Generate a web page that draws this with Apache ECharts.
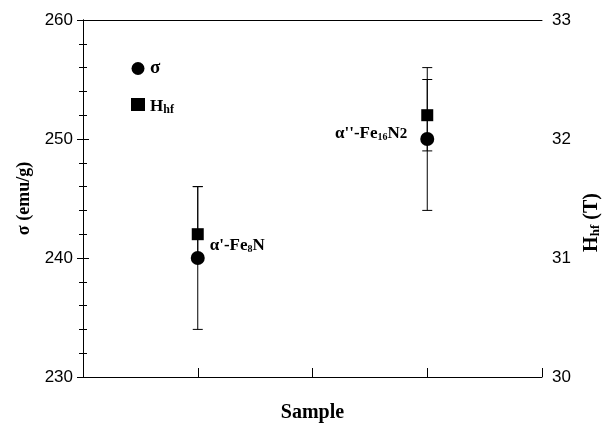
<!DOCTYPE html>
<html>
<head>
<meta charset="utf-8">
<script src="https://cdn.jsdelivr.net/npm/echarts@6/dist/echarts.min.js"></script>
<style>html,body{margin:0;padding:0;background:#fff}#c{width:609px;height:424px}</style>
</head>
<body>
<div id="c"></div>
<script>
// Data
const xPositions = [1, 3];
const sigma = [240, 250];
const sigmaLow = [234, 244];
const sigmaHigh = [246, 256];
const hhf = [31.2, 32.2];
const hhfLow = [31.0, 31.9];
const hhfHigh = [31.6, 32.5];
const sampleLabels = ["{m|α'-Fe}{s|8}{m|N}", "{m|α''-Fe}{s|16}{m|N}{s2|2}"];
const leftTicks = [230, 240, 250, 260];
const rightTicks = [30, 31, 32, 33];

const serif = '"Liberation Serif", "DejaVu Serif", serif';
const sans = '"Liberation Sans", Arial, sans-serif';

const chart = echarts.init(document.getElementById('c'));

function errRender(params, api) {
  const x = api.value(0), lo = api.value(1), hi = api.value(2);
  const a = api.coord([x, lo]), b = api.coord([x, hi]);
  const w = 5;
  const st = {stroke: '#000', lineWidth: 1};
  return {type: 'group', children: [
    {type: 'line', shape: {x1: a[0], y1: a[1], x2: b[0], y2: b[1]}, style: st},
    {type: 'line', shape: {x1: a[0]-w, y1: a[1], x2: a[0]+w, y2: a[1]}, style: st},
    {type: 'line', shape: {x1: b[0]-w, y1: b[1], x2: b[0]+w, y2: b[1]}, style: st}
  ]};
}

const labelRich = {
  m: {fontFamily: serif, fontWeight: 'bold', fontSize: 17, color: '#000', lineHeight: 22, verticalAlign: 'bottom'},
  s: {fontFamily: serif, fontWeight: 'bold', fontSize: 10, color: '#000', lineHeight: 18, verticalAlign: 'bottom'},
  s2: {fontFamily: serif, fontWeight: 'bold', fontSize: 15, color: '#000', lineHeight: 20, verticalAlign: 'bottom'}
};

chart.setOption({
  animation: false,
  grid: {left: 83, right: 67, top: 20, bottom: 47, outerBoundsMode: 'none', containLabel: false},
  legend: {
    orient: 'vertical', left: 126, top: 54, itemWidth: 14, itemHeight: 13, itemGap: 20,
    data: [{name: 'σ', icon: 'circle'}, {name: 'Hhf', icon: 'rect'}],
    formatter: n => n === 'Hhf' ? '{m|H}{s|hf}' : '{g|σ}',
    itemStyle: {color: '#000', opacity: 1},
    textStyle: {
      color: '#000',
      rich: {
        m: {fontFamily: serif, fontWeight: 'bold', fontSize: 17, color: '#000', lineHeight: 22, verticalAlign: 'bottom'},
        s: {fontFamily: serif, fontWeight: 'bold', fontSize: 12, color: '#000', lineHeight: 16, verticalAlign: 'bottom'},
        g: {fontFamily: serif, fontWeight: 'bold', fontSize: 19, color: '#000'}
      }
    }
  },
  xAxis: [{
    type: 'value', min: 0, max: 4, interval: 1,
    name: 'Sample', nameLocation: 'middle', nameGap: 26,
    nameTextStyle: {fontFamily: serif, fontWeight: 'bold', fontSize: 20, color: '#000'},
    axisLine: {lineStyle: {color: '#000', width: 1}},
    axisTick: {inside: true, length: 9, lineStyle: {color: '#000'}},
    axisLabel: {show: false}, splitLine: {show: false}
  }, {
    type: 'value', min: 0, max: 4, position: 'top',
    axisLine: {show: true, lineStyle: {color: '#000', width: 1}},
    axisTick: {show: false}, axisLabel: {show: false}, splitLine: {show: false}
  }],
  yAxis: [{
    type: 'value', min: 230, max: 260, interval: 10, position: 'left',
    name: 'σ (emu/g)', nameLocation: 'middle', nameGap: 43, nameRotate: 90,
    nameTextStyle: {fontFamily: serif, fontWeight: 'bold', fontSize: 18, color: '#000'},
    axisLine: {show: true, lineStyle: {color: '#000', width: 1}},
    axisTick: {inside: true, length: 6, lineStyle: {color: '#000'}},
    minorTick: {show: true, splitNumber: 5, length: 4, lineStyle: {color: '#000'}},
    axisLabel: {fontFamily: sans, fontSize: 17, color: '#000', margin: 10,
      customValues: leftTicks},
    splitLine: {show: false}
  }, {
    type: 'value', min: 30, max: 33, interval: 1, position: 'right',
    name: '{m|H}{s|hf}{m| (T)}', nameLocation: 'middle', nameGap: 36, nameRotate: 90,
    nameTextStyle: {
      padding: [0, 48, 0, 0],
      rich: {
        m: {fontFamily: serif, fontWeight: 'bold', fontSize: 20, color: '#000', lineHeight: 24, verticalAlign: 'bottom'},
        s: {fontFamily: serif, fontWeight: 'bold', fontSize: 13, color: '#000', lineHeight: 18, verticalAlign: 'bottom'}
      }
    },
    axisLine: {show: true, lineStyle: {color: '#000', width: 1}},
    axisTick: {inside: true, length: 6, lineStyle: {color: '#000'}},
    minorTick: {show: true, splitNumber: 5, length: 4, lineStyle: {color: '#000'}},
    axisLabel: {fontFamily: sans, fontSize: 17, color: '#000', margin: 10,
      customValues: rightTicks},
    splitLine: {show: false}
  }],
  series: [
    {
      type: 'custom', name: 'σerr', yAxisIndex: 0, renderItem: errRender, z: 1,
      data: xPositions.map((x, i) => [x, sigmaLow[i], sigmaHigh[i]]),
      encode: {x: 0, y: [1, 2]}
    },
    {
      type: 'custom', name: 'Hhferr', yAxisIndex: 1, renderItem: errRender, z: 1,
      data: xPositions.map((x, i) => [x, hhfLow[i], hhfHigh[i]]),
      encode: {x: 0, y: [1, 2]}
    },
    {
      type: 'scatter', name: 'σ', yAxisIndex: 0, symbol: 'circle', symbolSize: 14, z: 3,
      itemStyle: {color: '#000', opacity: 1},
      data: xPositions.map((x, i) => ({
        value: [x, sigma[i]],
        label: i === 0
          ? {show: true, color: '#000', position: 'right', distance: 5, offset: [0, -15], formatter: sampleLabels[0], rich: labelRich}
          : {show: true, color: '#000', position: 'left', distance: 5, offset: [-8, -8], formatter: sampleLabels[1], rich: labelRich}
      }))
    },
    {
      type: 'scatter', name: 'Hhf', yAxisIndex: 1, symbol: 'rect', symbolSize: 12, z: 3,
      itemStyle: {color: '#000', opacity: 1},
      data: xPositions.map((x, i) => [x, hhf[i]])
    }
  ]
});
</script>
</body>
</html>
